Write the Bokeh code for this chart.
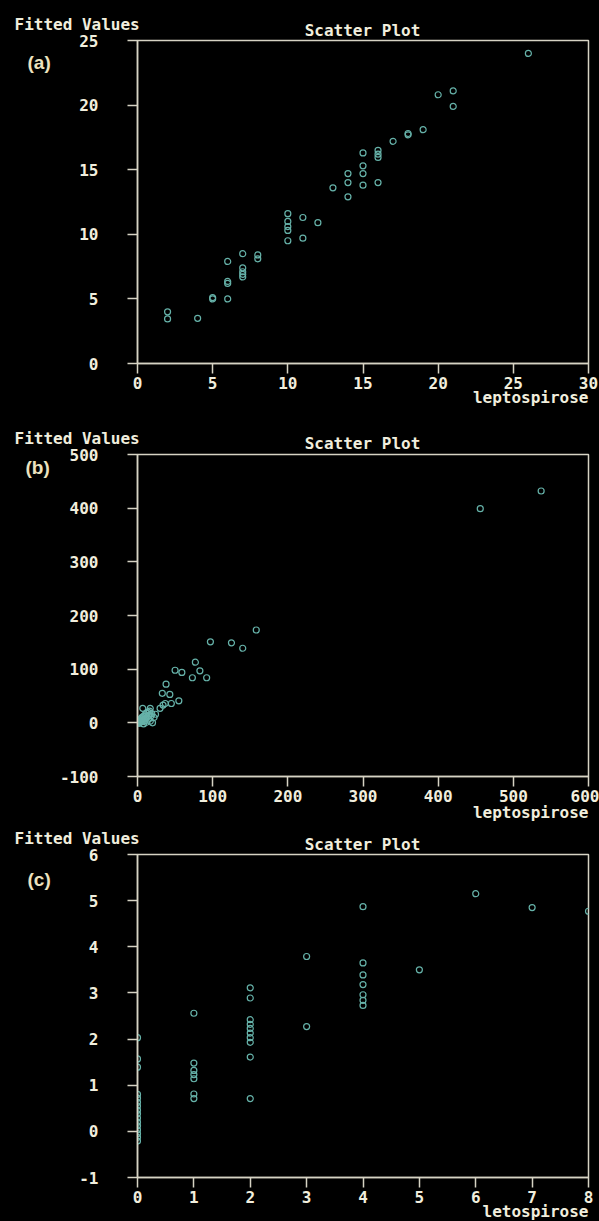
from bokeh.plotting import figure
from bokeh.models import Range1d, FixedTicker, GridBox, CustomJSTickFormatter
from bokeh.layouts import column
from bokeh.core.properties import value
from bokeh.embed import file_html
from bokeh.resources import INLINE

# ---------------- data ----------------
a_x = [2, 2, 4, 5, 5, 6, 6, 6, 6, 7, 7, 7, 7, 7, 8, 8, 10, 10, 10, 10, 10, 11, 11, 12, 13,
       14, 14, 14, 15, 15, 15, 15, 16, 16, 16, 16, 17, 18, 18, 19, 20, 21, 21, 26]
a_y = [4.0, 3.45, 3.5, 5.0, 5.1, 7.9, 6.2, 6.35, 5.0, 8.5, 7.4, 7.1, 6.9, 6.7, 8.4, 8.1,
       11.6, 11.0, 10.6, 10.3, 9.5, 11.3, 9.7, 10.9, 13.6, 14.7, 14.0, 12.9, 16.3, 15.3,
       14.7, 13.8, 16.5, 16.2, 15.95, 14.0, 17.2, 17.7, 17.8, 18.1, 20.8, 21.1, 19.9, 24.0]

b_x = [0, 1, 2, 3, 3, 4, 5, 5, 6, 6, 7, 8, 8, 9, 10, 10, 11, 12, 12, 13, 14, 15, 15, 16,
       17, 18, 19, 20, 22, 24, 7, 17, 30, 34, 37, 45, 55, 33, 43, 38, 50, 59, 73, 83, 77,
       92, 97, 125, 140, 158, 456, 537]
b_y = [0, 2, -1, 4, 1, 6, 3, 8, 2, 10, 5, 12, -2, 7, 15, 4, 9, 18, 1, 11, 20, 7, 14, 22,
       3, 13, 17, 0, 10, 16, 27, 27, 27, 33, 36, 36, 41, 55, 53, 72, 98, 94, 84, 97, 113,
       84, 151, 149, 139, 173, 399, 432]

c_x = [0, 0, 0, 0, 0, 0, 0, 0, 0, 0, 0, 0, 0, 0, 0, 0,
       1, 1, 1, 1, 1, 1, 1,
       2, 2, 2, 2, 2, 2, 2, 2, 2, 2,
       3, 3,
       4, 4, 4, 4, 4, 4, 4,
       5, 6, 7, 8]
c_y = [2.03, 1.57, 1.39, 0.80, 0.72, 0.63, 0.55, 0.46, 0.38, 0.29, 0.20, 0.12, 0.03, -0.05, -0.13, -0.21,
       2.56, 1.48, 1.32, 1.23, 1.14, 0.81, 0.71,
       3.11, 2.89, 2.42, 2.32, 2.23, 2.13, 2.03, 1.93, 1.61, 0.71,
       3.79, 2.27,
       4.87, 3.65, 3.39, 3.18, 2.96, 2.84, 2.73,
       3.5, 5.15, 4.85, 4.77]

a_xticks = [0, 5, 10, 15, 20, 25, 30]
a_yticks = [0, 5, 10, 15, 20, 25]
b_xticks = [0, 100, 200, 300, 400, 500, 600]
b_yticks = [-100, 0, 100, 200, 300, 400, 500]
c_xticks = [0, 1, 2, 3, 4, 5, 6, 7, 8]
c_yticks = [-1, 0, 1, 2, 3, 4, 5, 6]

y_title = "Fitted Values"
plot_title = "Scatter Plot"
tags = ["(a)", "(b)", "(c)"]
x_titles = ["leptospirose", "leptospirose", "letospirose"]

# ---------------- style ----------------
LINE = "#d6d3c4"
TXT = "#f1eedd"
TAG = "#ece2bf"
PT = "#66b2a9"
MONO = "DejaVu Sans Mono"
W = 599
H = 1221
LEFT = 137
RIGHT = 11


def panel(xs, ys, xr, yr, xt, yt, h, top, bottom):
    p = figure(width=W, height=h, x_range=Range1d(*xr), y_range=Range1d(*yr),
               output_backend="svg", toolbar_location=None, title=None,
               min_border_left=LEFT, min_border_right=RIGHT,
               min_border_top=top, min_border_bottom=bottom,
               background_fill_color="black", border_fill_color="black")
    p.grid.visible = False
    p.outline_line_color = LINE
    p.outline_line_width = 1.5
    p.scatter(xs, ys, marker="circle", size=6, fill_color=None,
              line_color=PT, line_width=1.2)
    for ax in (p.xaxis[0], p.yaxis[0]):
        ax.axis_line_color = LINE
        ax.axis_line_width = 1.5
        ax.major_tick_line_color = LINE
        ax.major_tick_line_width = 1.5
        ax.major_tick_out = 10
        ax.major_tick_in = 0
        ax.minor_tick_line_color = None
        ax.major_label_text_color = TXT
        ax.major_label_text_font = MONO
        ax.major_label_text_font_style = "bold"
        ax.major_label_text_font_size = "16px"
        ax.formatter = CustomJSTickFormatter(code="return String(tick);")
    p.xaxis.ticker = FixedTicker(ticks=xt)
    p.yaxis.ticker = FixedTicker(ticks=yt)
    p.xaxis.major_label_standoff = 3
    p.yaxis.major_label_standoff = 29
    return p


pa = panel(a_x, a_y, (0, 30), (0, 25), a_xticks, a_yticks, 415, 40, 52)
pb = panel(b_x, b_y, (0, 600), (-100, 500), b_xticks, b_yticks, 409, 39, 48)
pc = panel(c_x, c_y, (0, 8), (-1, 6), c_xticks, c_yticks, 397, 30, 44)

# transparent overlay (pixel coordinates, y downwards) carrying the texts
ov = figure(width=W, height=H, x_range=Range1d(0, W), y_range=Range1d(H, 0),
            output_backend="svg", toolbar_location=None, title=None,
            x_axis_type=None, y_axis_type=None, min_border=0,
            background_fill_color=None, border_fill_color=None,
            outline_line_color=None)
ov.grid.visible = False

ov.text(x=[14, 14, 14], y=[24, 438, 838], text=[y_title] * 3,
        text_font=value(MONO), text_font_style="bold", text_font_size="16px",
        text_color=TXT, text_baseline="middle", text_align="left")
ov.text(x=[362, 362, 362], y=[30, 443, 844], text=[plot_title] * 3,
        text_font=value(MONO), text_font_style="bold", text_font_size="16px",
        text_color=TXT, text_baseline="middle", text_align="center")
ov.text(x=[27, 25, 27], y=[62, 467, 879], text=tags,
        text_font=value("Liberation Sans"), text_font_style="bold", text_font_size="19px",
        text_color=TAG, text_baseline="middle", text_align="left")
ov.text(x=[588, 588, 588], y=[397, 812, 1211], text=x_titles,
        text_font=value(MONO), text_font_style="bold", text_font_size="16px",
        text_color=TXT, text_baseline="middle", text_align="right")

panels = column(pa, pb, pc, spacing=0)
panels.styles = {"background-color": "black"}
overlay = column(ov)

grid = GridBox(children=[(panels, 0, 0), (overlay, 0, 0)])
grid.styles = {"background-color": "black"}

open("out.html", "w").write(file_html(grid, INLINE))
